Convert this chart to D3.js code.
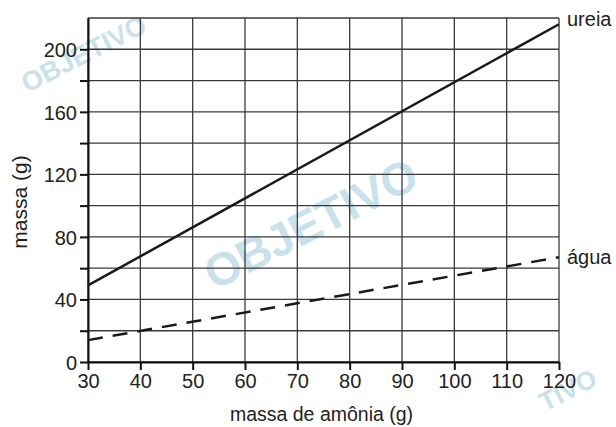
<!DOCTYPE html>
<html>
<head>
<meta charset="utf-8">
<script src="https://cdn.jsdelivr.net/npm/d3@7"></script>
<style>
  body { margin: 0; background: #fff; }
  text { font-family: "Liberation Sans", Arial, sans-serif; }
</style>
</head>
<body>
<svg id="chart"></svg>
<script>
// data
const amonia = [30, 120];
const ureia = [49, 216];
const agua = [14, 67];
const xTicks = [30, 40, 50, 60, 70, 80, 90, 100, 110, 120];
const yTicks = [0, 20, 40, 60, 80, 100, 120, 140, 160, 180, 200, 220];
const yLabels = [0, 40, 80, 120, 160, 200];

const svg_width = 616, svg_height = 427;
const margin = {top: 18, right: 57, bottom: 65, left: 88},
      width = svg_width - margin.left - margin.right,
      height = svg_height - margin.top - margin.bottom;

const svg = d3.select("#chart")
  .attr("width", svg_width)
  .attr("height", svg_height);

// watermarks (behind everything)
const wm = svg.append("g").style("fill", "#c9e1ea");
[[318, 238, 46, "OBJETIVO"], [88, 62, 27, "OBJETIVO"], [572, 398, 26, "TIVO"]].forEach(([x, y, s, t]) => {
  wm.append("text")
    .attr("transform", `translate(${x},${y}) rotate(-27)`)
    .attr("text-anchor", "middle")
    .style("font-size", s + "px")
    .style("font-weight", "bold")
    .text(t);
});

const chart = svg.append("g")
  .attr("transform", "translate(" + margin.left + "," + margin.top + ")");

const xScale = d3.scaleLinear().domain([30, 120]).range([0, width]);
const yScale = d3.scaleLinear().domain([0, 220]).range([height, 0]);

// grid
chart.append("g")
  .selectAll("line")
  .data(xTicks)
  .enter().append("line")
    .attr("x1", d => xScale(d)).attr("x2", d => xScale(d))
    .attr("y1", 0).attr("y2", height)
    .style("stroke", "#3a3a3a")
    .style("stroke-width", 1.3);
chart.append("g")
  .selectAll("line")
  .data(yTicks)
  .enter().append("line")
    .attr("x1", 0).attr("x2", width)
    .attr("y1", d => yScale(d)).attr("y2", d => yScale(d))
    .style("stroke", "#3a3a3a")
    .style("stroke-width", 1.3);

// axes
const yAxis = d3.axisLeft(yScale)
  .tickValues(yTicks.slice(0, -1))
  .tickSizeInner(8).tickSizeOuter(0).tickPadding(3)
  .tickFormat(d => yLabels.includes(d) ? d : "");
const xAxis = d3.axisBottom(xScale)
  .tickValues(xTicks)
  .tickSizeInner(8).tickSizeOuter(0).tickPadding(4);

const gy = chart.append("g").call(yAxis);
const gx = chart.append("g").attr("transform", `translate(0,${height})`).call(xAxis);
[gx, gy].forEach(g => {
  g.selectAll("line,path").style("stroke", "#111").style("stroke-width", 2);
  g.selectAll("text").style("font-size", "20px").style("fill", "#222")
    .style("font-family", "'Liberation Sans', Arial, sans-serif");
});
gy.selectAll("text").attr("dy", "0.36em");

// lines
const line = d3.line().x((d, i) => xScale(amonia[i])).y(d => yScale(d));
chart.append("path")
  .datum(ureia)
  .attr("d", line)
  .style("fill", "none")
  .style("stroke", "#1a1a1a")
  .style("stroke-width", 2.5);
chart.append("path")
  .datum(agua)
  .attr("d", line)
  .style("fill", "none")
  .style("stroke", "#1a1a1a")
  .style("stroke-width", 2.5)
  .style("stroke-dasharray", "15,10");

// series labels
chart.append("text")
  .attr("x", xScale(120) + 8).attr("y", 8)
  .text("ureia")
  .style("font-size", "20px").style("fill", "#222");
chart.append("text")
  .attr("x", xScale(120) + 8).attr("y", yScale(agua[1]) + 7)
  .text("água")
  .style("font-size", "20px").style("fill", "#222");

// axis titles
chart.append("text")
  .attr("transform", `translate(${width / 2 - 2}, ${height + 59})`)
  .text("massa de amônia (g)")
  .style("font-size", "19.5px")
  .style("text-anchor", "middle")
  .style("fill", "#222");
chart.append("text")
  .attr("transform", `translate(-61, 184) rotate(-90)`)
  .text("massa (g)")
  .style("font-size", "21px")
  .style("text-anchor", "middle")
  .style("fill", "#222");
</script>
</body>
</html>
